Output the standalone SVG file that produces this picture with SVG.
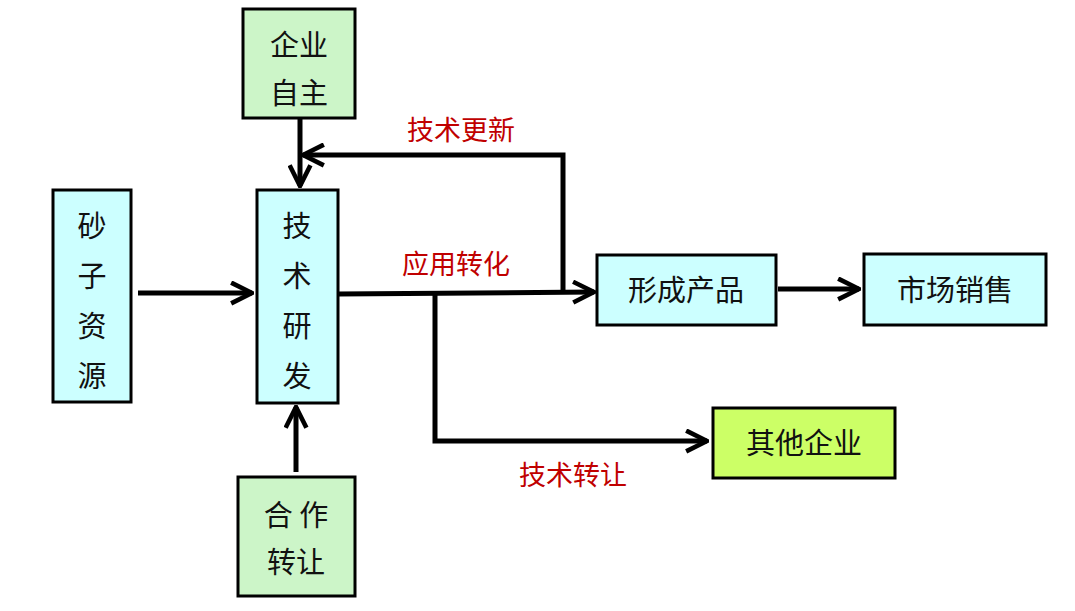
<svg xmlns="http://www.w3.org/2000/svg" width="1075" height="611" viewBox="0 0 1075 611">
<defs>
<style>
.b{stroke:#000;stroke-width:3}
.c{fill:#ccffff}.g{fill:#ccf5c8}.y{fill:#ccff66}
text{font-family:"Noto Sans CJK SC","Noto Sans",sans-serif;font-size:29px;fill:#111;text-anchor:middle}
.r{fill:#c00000;font-size:27px}
.l{fill:none;stroke:#000;stroke-width:5}
</style>
<marker id="a" viewBox="0 0 12 12" refX="11" refY="6" markerWidth="5" markerHeight="5" orient="auto" markerUnits="strokeWidth"><path d="M1,1 L11,6 L1,11" fill="none" stroke="#000" stroke-width="2.2"/></marker>
</defs>
<rect width="1075" height="611" fill="#fff"/>
<g id="connectors">
<path class="l" d="M138,293 H252" marker-end="url(#a)"/>
<path class="l" d="M300,118 V186" marker-end="url(#a)"/>
<path class="l" d="M563,293 V155 H303" marker-end="url(#a)"/>
<path class="l" d="M338,294 L594,292" marker-end="url(#a)"/>
<path class="l" d="M435,294 V441 H707" marker-end="url(#a)"/>
<path class="l" d="M296,472 V407" marker-end="url(#a)"/>
<path class="l" d="M778,289 H859" marker-end="url(#a)"/>
<text class="r" x="461" y="140">技术更新</text>
<text class="r" x="456" y="274">应用转化</text>
<text class="r" x="573" y="485">技术转让</text>
</g>
<g id="qiye"><rect class="b g" x="243" y="9" width="112" height="109"/><text x="299" y="56">企业</text><text x="299" y="104">自主</text></g>
<g id="yanfa"><rect class="b c" x="257" y="190" width="81" height="213"/><text x="297" y="237">技</text><text x="297" y="287">术</text><text x="297" y="337">研</text><text x="297" y="387">发</text></g>
<g id="shazi"><rect class="b c" x="53" y="190" width="78" height="212"/><text x="92" y="237">砂</text><text x="92" y="287">子</text><text x="92" y="337">资</text><text x="92" y="387">源</text></g>
<g id="hezuo"><rect class="b g" x="238" y="477" width="117" height="119"/><text x="296" y="526">合 作</text><text x="296" y="573">转让</text></g>
<g id="chanpin"><rect class="b c" x="597" y="255" width="179" height="70"/><text x="686" y="301">形成产品</text></g>
<g id="shichang"><rect class="b c" x="864" y="254" width="182" height="71"/><text x="955" y="301">市场销售</text></g>
<g id="qita"><rect class="b y" x="713" y="408" width="182" height="70"/><text x="804" y="454">其他企业</text></g>
</svg>
